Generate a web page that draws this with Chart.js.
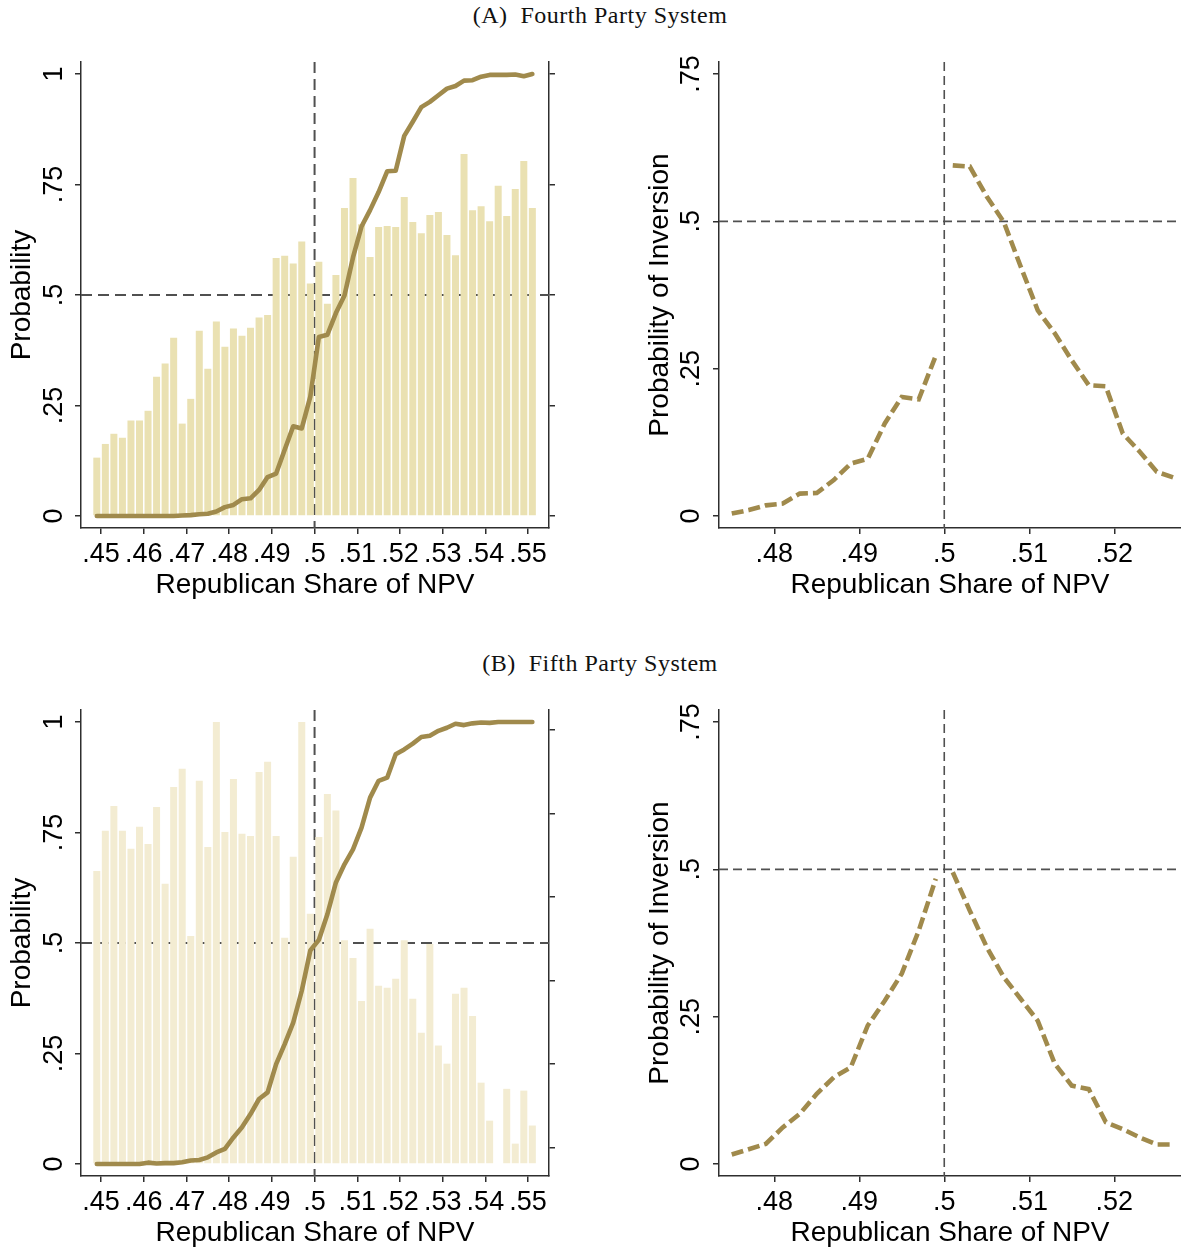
<!DOCTYPE html>
<html>
<head>
<meta charset="utf-8">
<script src="https://cdn.jsdelivr.net/npm/chart.js@4.4.1/dist/chart.umd.min.js"></script>
<style>
  html, body { margin: 0; padding: 0; background: #fff; }
  #page { position: relative; width: 1181px; height: 1249px; overflow: hidden; }
  .ttl { position: absolute; left: 600px; transform: translate(-50%, -50%); font-family: "Liberation Serif", "DejaVu Serif", serif; font-size: 24px; letter-spacing: 0.5px; white-space: pre; color: #111; }
  canvas { position: absolute; }
</style>
</head>
<body>
<div id="page">
  <div class="ttl" style="top:15px">(A)  Fourth Party System</div>
  <div class="ttl" style="top:663px">(B)  Fifth Party System</div>
  <canvas id="fourthWin" width="600" height="600" style="left:0;top:0"></canvas>
  <canvas id="fourthInv" width="561" height="600" style="left:620px;top:0"></canvas>
  <canvas id="fifthWin" width="600" height="600" style="left:0;top:648px"></canvas>
  <canvas id="fifthInv" width="561" height="600" style="left:620px;top:648px"></canvas>
</div>
<script>
// ==========================================
// data
// ==========================================
const binX = [
  0.449, 0.451, 0.453, 0.455, 0.457, 0.459, 0.461, 0.463, 0.465, 0.467,
  0.469, 0.471, 0.473, 0.475, 0.477, 0.479, 0.481, 0.483, 0.485, 0.487,
  0.489, 0.491, 0.493, 0.495, 0.497, 0.499, 0.501, 0.503, 0.505, 0.507,
  0.509, 0.511, 0.513, 0.515, 0.517, 0.519, 0.521, 0.523, 0.525, 0.527,
  0.529, 0.531, 0.533, 0.535, 0.537, 0.539, 0.541, 0.543, 0.545, 0.547,
  0.549, 0.551
];
const fourthBars = [
  0.132, 0.163, 0.186, 0.177, 0.216, 0.216, 0.238, 0.315, 0.345, 0.403,
  0.209, 0.265, 0.419, 0.333, 0.440, 0.383, 0.424, 0.408, 0.426, 0.449,
  0.455, 0.584, 0.589, 0.571, 0.621, 0.526, 0.575, 0.480, 0.545, 0.697,
  0.765, 0.660, 0.586, 0.654, 0.656, 0.654, 0.722, 0.665, 0.640, 0.681,
  0.688, 0.636, 0.590, 0.819, 0.692, 0.701, 0.667, 0.747, 0.679, 0.740,
  0.803, 0.697
];
const fourthWinProb = [
  0, 0, 0, 0, 0, 0, 0, 0, 0, 0,
  0.001, 0.002, 0.004, 0.005, 0.010, 0.020, 0.025, 0.038, 0.040, 0.059,
  0.088, 0.096, 0.150, 0.203, 0.198, 0.270, 0.405, 0.410, 0.459, 0.499,
  0.585, 0.655, 0.692, 0.733, 0.780, 0.781, 0.860, 0.892, 0.925, 0.937,
  0.952, 0.967, 0.973, 0.985, 0.986, 0.994, 0.998, 0.998, 0.998, 0.999,
  0.995, 1.000
];
const fifthBars = [
  0.663, 0.754, 0.810, 0.754, 0.713, 0.763, 0.724, 0.808, 0.634, 0.853,
  0.894, 0.516, 0.867, 0.717, 1.000, 0.751, 0.871, 0.747, 0.742, 0.887,
  0.910, 0.742, 0.512, 0.695, 1.000, 0.566, 0.740, 0.837, 0.800, 0.506,
  0.466, 0.369, 0.532, 0.403, 0.399, 0.419, 0.506, 0.374, 0.297, 0.498,
  0.268, 0.227, 0.385, 0.399, 0.335, 0.184, 0.098, 0, 0.170, 0.046,
  0.166, 0.087
];
const fifthWinProb = [
  0, 0, 0, 0, 0, 0, 0.003, 0.001, 0.002, 0.002,
  0.004, 0.008, 0.009, 0.015, 0.026, 0.034, 0.060, 0.083, 0.113, 0.147,
  0.162, 0.226, 0.271, 0.320, 0.392, 0.483, 0.507, 0.565, 0.637, 0.678,
  0.712, 0.761, 0.829, 0.867, 0.874, 0.927, 0.938, 0.951, 0.966, 0.969,
  0.980, 0.987, 0.996, 0.993, 0.997, 0.999, 0.998, 1.000, 1.000, 1.000,
  1.000, 1.000
];

const invXLeft = [0.475, 0.477, 0.479, 0.481, 0.483, 0.485, 0.487, 0.489, 0.491, 0.493, 0.495, 0.497, 0.499];
const invXRight = [0.501, 0.503, 0.505, 0.507, 0.509, 0.511, 0.513, 0.515, 0.517, 0.519, 0.521, 0.523, 0.525, 0.527];
const fourthInvLeft = [0.004, 0.010, 0.018, 0.021, 0.038, 0.039, 0.061, 0.089, 0.097, 0.157, 0.202, 0.198, 0.272];
const fourthInvRight = [0.595, 0.593, 0.542, 0.499, 0.423, 0.349, 0.310, 0.264, 0.222, 0.220, 0.140, 0.109, 0.075, 0.065];
const fifthInvLeft = [0.016, 0.025, 0.034, 0.062, 0.085, 0.119, 0.147, 0.164, 0.235, 0.277, 0.323, 0.396, 0.484];
const fifthInvRight = [0.495, 0.430, 0.368, 0.317, 0.280, 0.243, 0.170, 0.133, 0.127, 0.071, 0.059, 0.045, 0.033, 0.033];

const shareTicksWide = [0.45, 0.46, 0.47, 0.48, 0.49, 0.5, 0.51, 0.52, 0.53, 0.54, 0.55];
const shareTicksNarrow = [0.48, 0.49, 0.5, 0.51, 0.52];
const probTicks = [0, 0.25, 0.5, 0.75, 1];
const invTicks = [0, 0.25, 0.5, 0.75];
const fifthDensityTicks = [0.2, 1.2, 2.2, 3.2, 4.2, 5.2];

// ==========================================
// styling
// ==========================================
const SANS = '"Liberation Sans", Arial, Helvetica, sans-serif';
const AXIS = '#2e2e2e';
const REF = '#505050';
const OLIVE = '#A08A4C';
const SAND_DARK = '#EAE1B2';
const SAND_LIGHT = '#F3ECD2';

const fmt = v => String(+v.toFixed(2)).replace(/^0(?=\.)/, '');
const pts = (xs, ys) => xs.map((x, i) => ({ x: x, y: ys[i] }));

// dashed reference lines at .5, drawn under the bars
const refLines = {
  id: 'refLines',
  beforeDatasetsDraw(chart, args, o) {
    const { ctx, chartArea: a, scales } = chart;
    const px = scales.x.getPixelForValue(0.5), py = scales.y.getPixelForValue(0.5);
    ctx.save();
    ctx.strokeStyle = REF;
    ctx.lineWidth = o.width;
    ctx.setLineDash(o.dash);
    ctx.beginPath(); ctx.moveTo(px, a.top); ctx.lineTo(px, a.bottom); ctx.stroke();
    ctx.beginPath(); ctx.moveTo(a.left, py); ctx.lineTo(a.right, py); ctx.stroke();
    ctx.restore();
  }
};

// Stata style y labels, turned to read upwards
const rotLabels = {
  id: 'rotLabels',
  afterDraw(chart, args, o) {
    const s = chart.scales.y, ctx = chart.ctx;
    ctx.save();
    ctx.fillStyle = '#000';
    ctx.font = '27px ' + SANS;
    ctx.textAlign = 'center';
    ctx.textBaseline = 'alphabetic';
    s.ticks.forEach(t => {
      ctx.save();
      ctx.translate(s.right - o.gap, s.getPixelForValue(t.value));
      ctx.rotate(-Math.PI / 2);
      ctx.fillText(fmt(t.value), 0, 0);
      ctx.restore();
    });
    ctx.restore();
  }
};

function axisBase(extra) {
  return Object.assign({
    type: 'linear',
    offset: false,
    grid: { drawOnChartArea: false, drawTicks: true, tickLength: 6, color: AXIS, lineWidth: 1.5, offset: false },
    border: { display: true, color: AXIS, width: 1.5 }
  }, extra);
}

function xAxis(min, max, tickVals) {
  return axisBase({
    position: 'bottom', min: min, max: max,
    afterBuildTicks: s => { s.ticks = tickVals.map(v => ({ value: v })); },
    afterFit: s => { s.height = 72; },
    ticks: { autoSkip: false, maxRotation: 0, minRotation: 0, padding: 4, color: '#000',
             font: { family: SANS, size: 27 }, callback: v => fmt(v) },
    title: { display: true, text: 'Republican Share of NPV', color: '#000',
             font: { family: SANS, size: 28 }, padding: { top: 0, bottom: -2 } }
  });
}

function yAxis(min, max, tickVals, text, width, titlePad) {
  return axisBase({
    position: 'left', min: min, max: max,
    afterBuildTicks: s => { s.ticks = tickVals.map(v => ({ value: v })); },
    afterFit: s => { s.width = width; },
    ticks: { display: false },
    title: { display: true, text: text, color: '#000',
             font: { family: SANS, size: 28 }, padding: { top: titlePad, bottom: 0 } }
  });
}

function rightAxis(min, max, tickVals, width) {
  return axisBase({
    position: 'right', min: min, max: max,
    afterBuildTicks: s => { s.ticks = tickVals.map(v => ({ value: v })); },
    afterFit: s => { s.width = width; },
    ticks: { display: false },
    title: { display: false }
  });
}

function baseOptions(scales, ref, gap) {
  return {
    responsive: false,
    animation: false,
    devicePixelRatio: 1,
    events: [],
    layout: { padding: { top: 62, left: 0, right: 0, bottom: 0 } },
    scales: scales,
    plugins: {
      legend: { display: false },
      tooltip: { enabled: false },
      refLines: ref,
      rotLabels: { gap: gap }
    }
  };
}

// ==========================================
// left panels: bars + win probability
// ==========================================
function drawWinPanel(id, bars, win, barColor, right) {
  new Chart(document.getElementById(id), {
    type: 'bar',
    data: {
      datasets: [
        { type: 'line', data: pts(binX, win), borderColor: OLIVE, borderWidth: 4.6, pointRadius: 0,
          tension: 0, borderJoinStyle: 'round', borderCapStyle: 'round', order: 0 },
        { type: 'bar', data: pts(binX, bars), backgroundColor: barColor, borderWidth: 0,
          barPercentage: 0.82, categoryPercentage: 1, order: 1 }
      ]
    },
    options: baseOptions({
      x: xAxis(0.4453, 0.5549, shareTicksWide),
      y: yAxis(-0.0272, 1.0272, probTicks, 'Probability', 81, 5),
      y2: rightAxis(right.min, right.max, right.ticks, 51)
    }, { width: 2, dash: [11, 6] }, 19),
    plugins: [refLines, rotLabels]
  });
}

// ==========================================
// right panels: probability of inversion
// ==========================================
function drawInvPanel(id, left, right) {
  const style = { borderColor: OLIVE, borderWidth: 4.6, borderDash: [12, 5], pointRadius: 0, tension: 0 };
  new Chart(document.getElementById(id), {
    type: 'line',
    data: {
      datasets: [
        Object.assign({ data: pts(invXLeft, left) }, style),
        Object.assign({ data: pts(invXRight, right) }, style)
      ]
    },
    options: baseOptions({
      x: xAxis(0.4735, 0.52785, shareTicksNarrow),
      y: yAxis(-0.0204, 0.7704, invTicks, 'Probability of Inversion', 99, 23)
    }, { width: 1.6, dash: [9, 5] }, 20),
    plugins: [refLines, rotLabels]
  });
}

drawWinPanel('fourthWin', fourthBars, fourthWinProb, SAND_DARK, { min: -0.0272, max: 1.0272, ticks: probTicks });
drawInvPanel('fourthInv', fourthInvLeft, fourthInvRight);
drawWinPanel('fifthWin', fifthBars, fifthWinProb, SAND_LIGHT, { min: -0.144, max: 5.441, ticks: fifthDensityTicks });
drawInvPanel('fifthInv', fifthInvLeft, fifthInvRight);
</script>
</body>
</html>
